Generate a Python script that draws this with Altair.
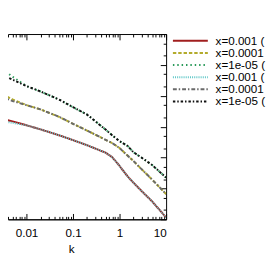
import altair as alt
import pandas as pd

k_vals = [0.003, 0.005, 0.01, 0.02, 0.05, 0.1, 0.2, 0.5, 0.7, 1, 1.5, 2, 3, 5, 10]

red_vals = [1.78e-3, 1.49e-3, 1.11e-3, 8.17e-4, 5.28e-4, 3.66e-4, 2.51e-4, 1.44e-4, 1.02e-4, 5.33e-5, 2.41e-5, 1.52e-5, 8.13e-6, 3.81e-6, 1.15e-6]
cyan_vals = [1.49e-3, 1.33e-3, 1.11e-3, 8.17e-4, 5.28e-4, 3.66e-4, 2.51e-4, 1.44e-4, 1.02e-4, 5.33e-5, 2.41e-5, 1.52e-5, 8.13e-6, 3.81e-6, 1.15e-6]
olive_vals = [1.13e-2, 7.69e-3, 4.98e-3, 3.62e-3, 2.09e-3, 1.24e-3, 7.48e-4, 3.77e-4, 2.92e-4, 2.03e-4, 1.14e-4, 7.66e-5, 4.14e-5, 1.94e-5, 6.55e-6]
grey_vals = [9.08e-3, 6.79e-3, 4.98e-3, 3.62e-3, 2.09e-3, 1.24e-3, 7.48e-4, 3.77e-4, 2.92e-4, 2.03e-4, 1.14e-4, 7.66e-5, 4.14e-5, 1.94e-5, 6.55e-6]
green_vals = [7.40e-2, 4.15e-2, 2.06e-2, 1.38e-2, 7.57e-3, 4.28e-3, 2.47e-3, 8.04e-4, 5.21e-4, 3.37e-4, 2.35e-4, 1.47e-4, 9.86e-5, 5.74e-5, 2.24e-5]
black_vals = [4.79e-2, 3.34e-2, 2.06e-2, 1.38e-2, 7.57e-3, 4.28e-3, 2.47e-3, 8.04e-4, 5.21e-4, 3.37e-4, 2.35e-4, 1.47e-4, 9.86e-5, 5.74e-5, 2.24e-5]

series_names = ["x=0.001 (LO)", "x=0.0001 (LO)", "x=1e-05 (LO)",
                "x=0.001 (NLO)", "x=0.0001 (NLO)", "x=1e-05 (NLO)"]
series_vals = [red_vals, olive_vals, green_vals, cyan_vals, grey_vals, black_vals]
series_colors = ["#a01e1e", "#b3ab2c", "#2a9a5a", "#5cc6c6", "#6a6a6a", "#111111"]
series_dash = [[1, 0], [3.5, 2], [1.5, 3], [1, 1.2], [4, 2, 1.5, 2], [2.5, 2, 1.5, 2]]

x_major = [0.01, 0.1, 1, 10]
x_ticks = [0.004, 0.005, 0.006, 0.007, 0.008, 0.009,
           0.01, 0.02, 0.03, 0.04, 0.05, 0.06, 0.07, 0.08, 0.09,
           0.1, 0.2, 0.3, 0.4, 0.5, 0.6, 0.7, 0.8, 0.9,
           1, 2, 3, 4, 5, 6, 7, 8, 9, 10]
y_ticks = [1e-6, 2e-6, 5e-6, 1e-5, 2e-5, 5e-5, 1e-4, 2e-4, 5e-4,
           1e-3, 2e-3, 5e-3, 1e-2, 2e-2, 5e-2, 0.1, 0.2, 0.5, 1]

rows = []
for name, vals in zip(series_names, series_vals):
    for k, v in zip(k_vals, vals):
        rows.append({"k": k, "v": v, "series": name})
df = pd.DataFrame(rows)

W, H = 163, 191
xscale = alt.Scale(type="log", domain=[0.004, 10], nice=False)
yscale = alt.Scale(type="log", domain=[1e-6, 1], nice=False)
major_test = "abs(log(datum.value)/LN10 - round(log(datum.value)/LN10)) < 1e-6"
tick_size = {"condition": {"test": major_test, "value": 6}, "value": 3}

# the page is narrower than the legend labels: show only the part that fits
legend = alt.Legend(orient="none", legendX=182, legendY=1, title=None,
                    symbolType="M-3.6,0H3.6", symbolSize=100, symbolStrokeWidth=2,
                    labelFont="Liberation Sans", labelFontSize=12, labelColor="black",
                    labelOffset=20, rowPadding=0.5, padding=0, labelLimit=300,
                    labelExpr="trim(substring(datum.label, 0, 9))")

lines = alt.Chart(df).mark_line(clip=True, strokeWidth=2, strokeCap="butt").encode(
    x=alt.X("k:Q", scale=xscale,
            axis=alt.Axis(orient="bottom", values=x_major, format="~g", ticks=False,
                          domainColor="black", domainWidth=1, grid=False,
                          labelFont="Liberation Sans", labelFontSize=12, labelColor="black",
                          labelPadding=9, title="k", titleFont="Liberation Sans",
                          titleFontSize=12, titleFontWeight="normal", titleColor="black",
                          titleBaseline="alphabetic", titleY=34, titleX=65,
                          titleAlign="center")),
    y=alt.Y("v:Q", scale=yscale,
            axis=alt.Axis(orient="left", offset=-W, values=y_ticks, labels=False,
                          title=None, grid=False, domainColor="black", domainWidth=1,
                          tickColor="black", tickWidth=1, tickSize=tick_size)),
    color=alt.Color("series:N", sort=series_names,
                    scale=alt.Scale(domain=series_names, range=series_colors), legend=legend),
    strokeDash=alt.StrokeDash("series:N", sort=series_names,
                              scale=alt.Scale(domain=series_names, range=series_dash), legend=legend),
)

top_ticks = alt.Chart(df).mark_rule(opacity=0).encode(
    x=alt.X("k:Q", scale=xscale,
            axis=alt.Axis(orient="bottom", offset=-H, values=x_ticks, labels=False,
                          title=None, grid=False, domainColor="black", domainWidth=1,
                          tickColor="black", tickWidth=1, tickSize=tick_size)),
)
bottom_ticks = alt.Chart(df).mark_rule(opacity=0).encode(
    x=alt.X("k:Q", scale=xscale,
            axis=alt.Axis(orient="top", offset=-H, values=x_ticks, labels=False,
                          title=None, grid=False, domainColor="black", domainWidth=1,
                          tickColor="black", tickWidth=1, tickSize=tick_size)),
)

chart = alt.layer(lines, top_ticks, bottom_ticks).resolve_axis(x="independent").properties(
    width=W, height=H,
    autosize=alt.AutoSizeParams(type="none"),
    padding={"left": 0, "top": 23, "right": 104, "bottom": 35}
).configure_view(stroke=None)

chart.save("out.html", embed_options={"renderer": "svg", "actions": False})
